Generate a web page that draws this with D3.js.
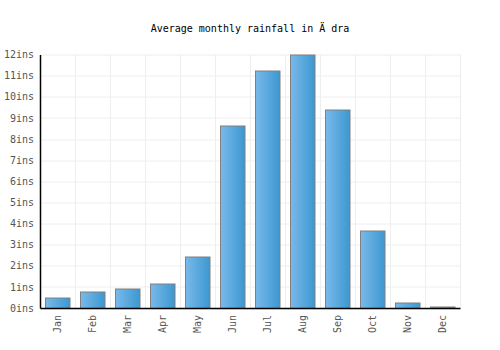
<!DOCTYPE html>
<html>
<head>
<meta charset="utf-8">
<script src="https://cdn.jsdelivr.net/npm/d3@7"></script>
<style>
  body { margin: 0; background: #fff; }
  text { font-family: "DejaVu Sans Mono", monospace; }
</style>
</head>
<body>
<div id="chart"></div>
<script>
// Data
const months = ['Jan', 'Feb', 'Mar', 'Apr', 'May', 'Jun', 'Jul', 'Aug', 'Sep', 'Oct', 'Nov', 'Dec']
const rainfall = [0.52, 0.8, 0.9, 1.18, 2.42, 8.62, 11.22, 12.0, 9.42, 3.68, 0.27, 0.08]
const yTicks = [0, 1, 2, 3, 4, 5, 6, 7, 8, 9, 10, 11, 12]
const title = 'Average monthly rainfall in Ä dra'

const width = 500
const height = 350
const margin = { top: 54.5, right: 40, bottom: 42, left: 40 }
const ctrWidth = width - margin.left - margin.right
const ctrHeight = height - margin.top - margin.bottom

const svg = d3.select('#chart')
  .append('svg')
  .attr('width', width)
  .attr('height', height)

// gradient for the bars
const grad = svg.append('defs').append('linearGradient')
  .attr('id', 'barGrad')
  .attr('x1', '0%').attr('x2', '100%')
  .attr('y1', '0%').attr('y2', '0%')
grad.append('stop').attr('offset', '0%').attr('stop-color', '#7ab9eb')
grad.append('stop').attr('offset', '100%').attr('stop-color', '#3b98d0')

svg.append('text')
  .attr('x', width / 2)
  .attr('y', 32)
  .attr('text-anchor', 'middle')
  .attr('font-size', 10)
  .attr('fill', '#000')
  .text(title)

const ctr = svg.append('g')
  .attr('transform', `translate(${margin.left}, ${margin.top})`)

// Scales
const xScale = d3.scaleBand()
  .domain(months)
  .range([0, ctrWidth])
  .paddingInner(0.3)
  .paddingOuter(0.15)

const yScale = d3.scaleLinear()
  .domain([0, 12])
  .range([ctrHeight, 0])

// grid
const step = ctrWidth / months.length
ctr.append('g')
  .selectAll('line')
  .data(d3.range(months.length + 1))
  .join('line')
  .attr('x1', d => Math.round(d * step) + 0.5)
  .attr('x2', d => Math.round(d * step) + 0.5)
  .attr('y1', 0)
  .attr('y2', ctrHeight)
  .attr('stroke', '#eeeeee')

ctr.append('g')
  .selectAll('line')
  .data(yTicks)
  .join('line')
  .attr('x1', 0)
  .attr('x2', ctrWidth)
  .attr('y1', d => Math.round(yScale(d)) + 0.5)
  .attr('y2', d => Math.round(yScale(d)) + 0.5)
  .attr('stroke', '#eeeeee')

// bars
ctr.append('g')
  .selectAll('rect')
  .data(rainfall)
  .join('rect')
  .attr('x', (d, i) => Math.round(xScale(months[i])) + 0.5)
  .attr('y', d => Math.round(yScale(d)) + 0.5)
  .attr('width', xScale.bandwidth())
  .attr('height', d => ctrHeight - Math.round(yScale(d)))
  .attr('fill', 'url(#barGrad)')
  .attr('stroke', '#808080')
  .attr('stroke-width', 1)

// axes
const yAxis = d3.axisLeft(yScale)
  .tickValues(yTicks)
  .tickSize(0)
  .tickPadding(6)
  .tickFormat(d => `${d}ins`)
const yAxisGroup = ctr.append('g').call(yAxis)
yAxisGroup.select('.domain').attr('stroke', '#000').attr('stroke-width', 1.5)
yAxisGroup.selectAll('text')
  .attr('font-size', 10)
  .attr('fill', '#555')
  .attr('font-family', '"DejaVu Sans Mono", monospace')

const xAxis = d3.axisBottom(xScale).tickSize(0).tickPadding(6)
const xAxisGroup = ctr.append('g')
  .attr('transform', `translate(0, ${ctrHeight})`)
  .call(xAxis)
xAxisGroup.select('.domain').attr('stroke', '#000').attr('stroke-width', 1.5)
xAxisGroup.selectAll('text')
  .attr('font-size', 10)
  .attr('fill', '#555')
  .attr('font-family', '"DejaVu Sans Mono", monospace')
  .attr('transform', 'rotate(-90)')
  .attr('text-anchor', 'end')
  .attr('dy', '0.35em')
  .attr('x', -7)
  .attr('y', 0)
</script>
</body>
</html>
